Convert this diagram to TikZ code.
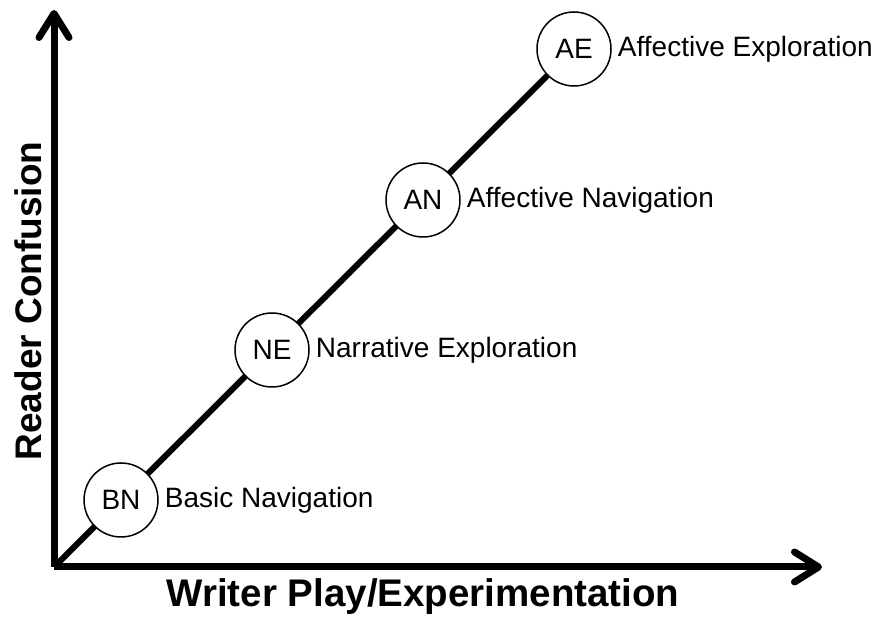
\documentclass[tikz,border=0pt]{standalone}
\usepackage{fontspec}
\setmainfont{Liberation Sans}
\usetikzlibrary{arrows.meta,positioning,backgrounds}
\begin{document}
\begin{tikzpicture}[x=1pt,y=1pt,
    axis/.style={line width=7pt,-{Straight Barb[length=24pt,width=30pt,round]}},
    stage/.style={circle,draw,fill=white,line width=1.5pt,minimum size=74pt,inner sep=0pt,
      font=\fontsize{28}{32}\selectfont},
    stagename/.style={inner sep=0pt,font=\fontsize{28}{32}\selectfont},
    axisname/.style={font=\fontsize{38.5}{40}\selectfont\bfseries}]
  \useasboundingbox (0,0) rectangle (875,617);
  \coordinate (O) at (54,50);
  \coordinate (ytip) at (54,607);
  \coordinate (xtip) at (822,50);
  \draw[axis] (O) -- (ytip);
  \draw[axis] (O) -- (xtip);
  % stages along the diagonal
  \node[stage] (BN) at (121,117) {BN};
  \node[stage] (NE) at (272,267) {NE};
  \node[stage] (AN) at (423,417) {AN};
  \node[stage] (AE) at (574,568) {AE};
  \node[stagename,right=6pt of BN] (bnname) {Basic Navigation};
  \node[stagename,right=6pt of NE] (nename) {Narrative Exploration};
  \node[stagename,right=6pt of AN] (anname) {Affective Navigation};
  \node[stagename,right=6pt of AE] (aename) {Affective Exploration};
  \begin{scope}[on background layer]
    \draw[line width=6pt] (O) -- (AE);
  \end{scope}
  % axis titles
  \node[axisname] (xname) at (423,20) {Writer Play/Experimentation};
  \node[axisname,rotate=90,font=\fontsize{37}{40}\selectfont\bfseries] (yname) at (28,316) {Reader Confusion};
\end{tikzpicture}
\end{document}
